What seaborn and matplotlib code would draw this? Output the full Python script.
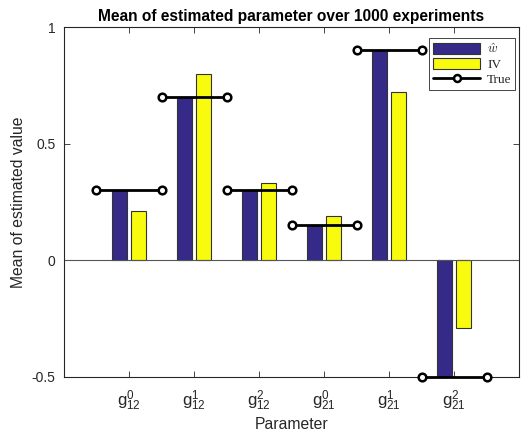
import numpy as np
import pandas as pd
import matplotlib
matplotlib.use("Agg")
import matplotlib.pyplot as plt
from matplotlib.lines import Line2D
from matplotlib.patches import Patch
import seaborn as sns

# ---- data ----
params = [r"$\mathregular{g_{12}^{0}}$", r"$\mathregular{g_{12}^{1}}$", r"$\mathregular{g_{12}^{2}}$",
          r"$\mathregular{g_{21}^{0}}$", r"$\mathregular{g_{21}^{1}}$", r"$\mathregular{g_{21}^{2}}$"]
w_hat = [0.30, 0.70, 0.30, 0.15, 0.90, -0.50]
iv = [0.213, 0.80, 0.333, 0.19, 0.72, -0.288]
true_vals = [0.30, 0.70, 0.30, 0.15, 0.90, -0.50]
series = ["w_hat", "IV"]

sns.set_theme(style="white")
plt.rcParams["font.family"] = ["Liberation Sans", "DejaVu Sans"]
plt.rcParams["mathtext.fontset"] = "custom"
plt.rcParams["mathtext.rm"] = "Liberation Sans"
plt.rcParams["mathtext.it"] = "Liberation Sans:italic"

axis_col = "#262626"
blue = "#352a87"
yellow = "#f9fb0e"

df = pd.DataFrame({
    "param": params * 2,
    "series": [series[0]] * len(params) + [series[1]] * len(params),
    "value": w_hat + iv,
})

fig = plt.figure(figsize=(5.22, 4.37), dpi=100)
ax = fig.add_axes([0.1226, 0.1373, 0.8717, 0.8009])

sns.barplot(data=df, x="param", y="value", hue="series", order=params,
            hue_order=series, palette=[blue, yellow], saturation=1,
            width=0.58, gap=0.2, edgecolor="#333333", linewidth=0.8,
            legend=False, ax=ax)

# baseline at zero
ax.axhline(0, color="#555555", lw=0.8, zorder=1)

# true values: horizontal segments with open circle ends
for i, t in enumerate(true_vals):
    ax.plot([i - 0.5, i + 0.5], [t, t], color="black", lw=2, marker="o",
            ms=5.5, mfc="white", mec="black", mew=1.8, zorder=5, clip_on=False)

ax.set_xlim(-1, 6)
ax.set_ylim(-0.5, 1)
ax.set_yticks([-0.5, 0, 0.5, 1])
ax.set_yticklabels(["-0.5", "0", "0.5", "1"])
ax.set_xticks(range(len(params)))
ax.set_xticklabels(params)

for s in ax.spines.values():
    s.set_visible(True)
    s.set_color(axis_col)
    s.set_linewidth(0.8)

ax.tick_params(axis="both", direction="in", length=4, width=0.6, color=axis_col,
               labelcolor=axis_col, labelsize=10, top=True, right=True,
               bottom=True, left=True, pad=6)
ax.tick_params(axis="x", labelsize=12, pad=8)

ax.set_xlabel("Parameter", fontsize=11.3, color=axis_col, labelpad=3)
ax.set_ylabel("Mean of estimated value", fontsize=11.3, color=axis_col, labelpad=4)
ax.set_title("Mean of estimated parameter over 1000 experiments", fontsize=11.2,
             fontweight="bold", color="black", pad=4)

handles = [
    Patch(facecolor=blue, edgecolor="#333333", linewidth=0.8),
    Patch(facecolor=yellow, edgecolor="#333333", linewidth=0.8),
    Line2D([0], [0], color="black", lw=2, marker="o", ms=5, mfc="white", mec="black", mew=1.8),
]
leg = ax.legend(handles, [r"$\hat{w}$", "IV", "True"], loc="upper right",
                bbox_to_anchor=(0.998, 0.975),
                prop={"family": "Liberation Serif", "size": 9.5, "math_fontfamily": "cm"},
                frameon=True, fancybox=False, edgecolor=axis_col, framealpha=1,
                handlelength=3.6, handleheight=0.9, handletextpad=0.5,
                borderpad=0.3, labelspacing=0.14, borderaxespad=0.2)
leg.get_frame().set_linewidth(0.6)

fig.savefig("out.png", dpi=100)
